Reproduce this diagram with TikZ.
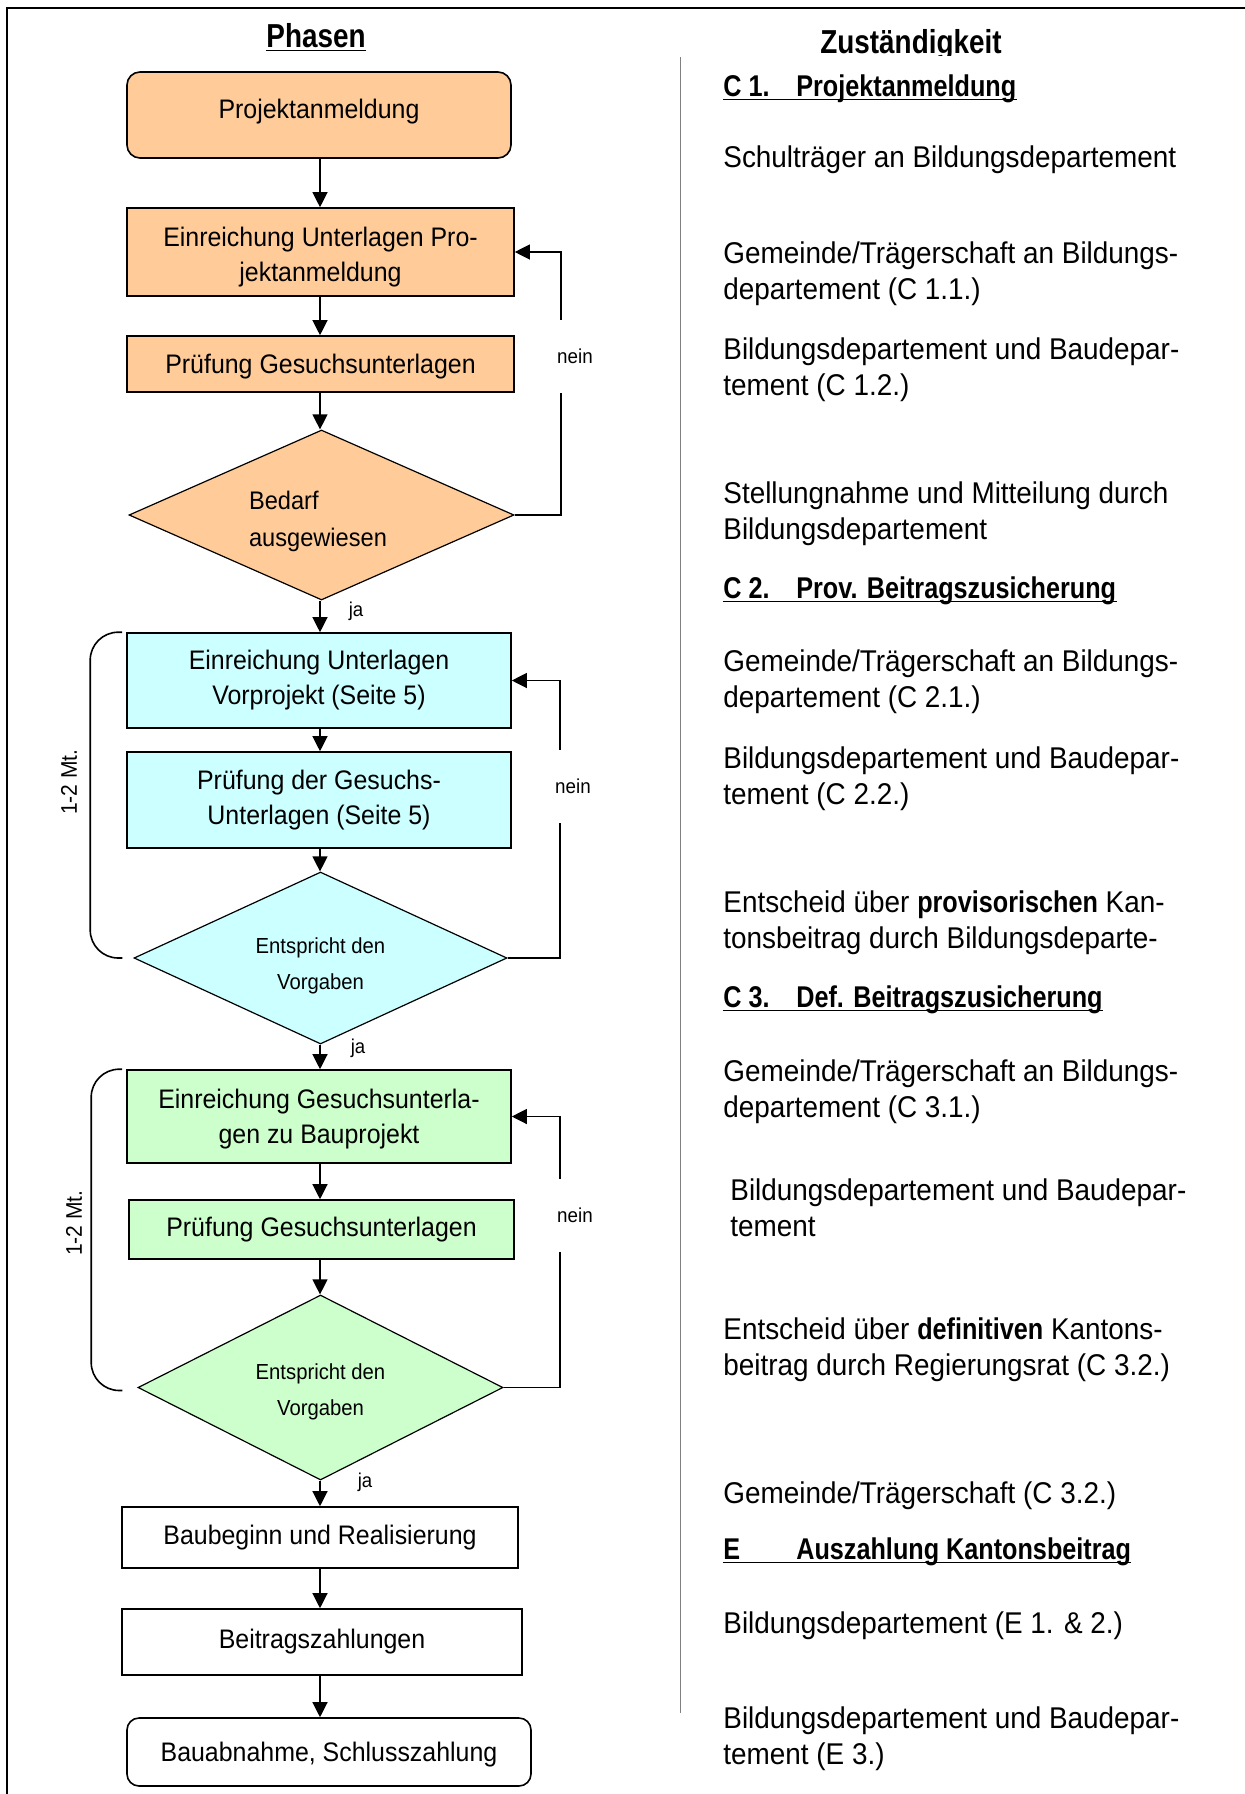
\documentclass[tikz,border=0pt]{standalone}
\usepackage{fontspec}
\setmainfont{Liberation Sans}[FakeStretch=0.93, BoldFeatures={FakeStretch=0.84}]
\usetikzlibrary{shapes.geometric,arrows.meta}
\definecolor{orangef}{RGB}{255,204,153}
\definecolor{cyanf}{RGB}{204,255,255}
\definecolor{greenf}{RGB}{204,255,204}
\definecolor{sepgray}{RGB}{128,128,128}
\begin{document}
\begin{tikzpicture}[x=0.5pt,y=-0.5pt,
  box/.style={draw=black, line width=0.8pt, inner sep=0pt, align=center, font=\fontsize{13.4}{17.5}\selectfont},
  btext/.style={inner sep=0pt, align=center, font=\fontsize{13.4}{17.5}\selectfont},
  dia/.style={diamond, draw=black, line width=0.6pt, inner sep=0pt, align=center},
  dtext/.style={inner sep=0pt, align=center, font=\fontsize{10.9}{18}\selectfont},
  arr/.style={line width=0.6pt, -{Triangle[length=7.5pt,width=7.5pt]}},
  lbl/.style={inner sep=1pt, font=\fontsize{10}{12}\selectfont},
  neinlbl/.style={fill=white, inner xsep=3pt, inner ysep=0pt, minimum height=36.5pt, font=\fontsize{10.1}{12}\selectfont},
  para/.style={anchor=west, inner sep=0pt, yshift=-1.15pt, align=left, font=\fontsize{15}{18}\selectfont},
  head/.style={anchor=base west, inner sep=0pt, font=\fontsize{15}{17}\selectfont\bfseries},
  uline/.style={line width=0.7pt},
  brace/.style={line width=0.8pt, rounded corners=14pt},
]
\useasboundingbox (0,0) rectangle (1245,1794);
% frame
\draw[line width=1pt] (7,1794) -- (7,8) -- (1245,8);
% separator
\draw[sepgray, line width=0.5pt] (680,57) -- (680,1713);

% headers
\node[anchor=base, inner sep=0pt, font=\fontsize{16.6}{18}\selectfont\bfseries] (ph) at (316,47) {Phasen};
\draw[uline] ([yshift=-1.6pt]ph.base west) -- ([yshift=-1.6pt]ph.base east);
\begin{scope}
\clip (690,0) rectangle (1245,55);
\node[anchor=base, inner sep=0pt, font=\fontsize{16.6}{18}\selectfont\bfseries] (zu) at (911,53) {Zuständigkeit};
\end{scope}

% flow boxes
\node[box, fill=orangef, rounded corners=6.5pt, minimum width=192pt, minimum height=43pt] (b1) at (319,115) {};
\node[btext] (b1t) at (319,111.5) {Projektanmeldung};
\node[box, fill=orangef, minimum width=193.5pt, minimum height=44pt] (b2) at (320.5,252) {};
\node[btext] (b2t) at (320.5,257.5) {Einreichung Unterlagen Pro-\\jektanmeldung};
\node[box, fill=orangef, minimum width=193.5pt, minimum height=28pt] (b3) at (320.5,364) {};
\node[btext] (b3t) at (320.5,366.3) {Prüfung Gesuchsunterlagen};
\node[dia, fill=orangef, minimum width=192.5pt, minimum height=85pt] (d1) at (321.5,515) {};
\node[inner sep=0pt, align=left, font=\fontsize{12.7}{18.5}\selectfont] (d1t) at (318,521.5) {Bedarf\\ausgewiesen};

\node[box, fill=cyanf, minimum width=192pt, minimum height=47.5pt] (b4) at (319,680.5) {Einreichung Unterlagen\\Vorprojekt (Seite 5)};
\node[box, fill=cyanf, minimum width=192pt, minimum height=48pt] (b5) at (319,800) {Prüfung der Gesuchs-\\Unterlagen (Seite 5)};
\node[dia, fill=cyanf, minimum width=186.5pt, minimum height=86pt] (d2) at (320.5,958) {};
\node[dtext] (d2t) at (320.5,966) {Entspricht den\\Vorgaben};

\node[box, fill=greenf, minimum width=192pt, minimum height=46.5pt] (b6) at (319,1116.5) {};
\node[btext] (b6t) at (319,1118.8) {Einreichung Gesuchsunterla-\\gen zu Bauprojekt};
\node[box, fill=greenf, minimum width=192.5pt, minimum height=29.5pt] (b7) at (321.5,1229.5) {Prüfung Gesuchsunterlagen};
\node[dia, fill=greenf, minimum width=182.5pt, minimum height=92.5pt] (d3) at (320.5,1387.5) {};
\node[dtext] (d3t) at (320.5,1392) {Entspricht den\\Vorgaben};

\node[box, fill=white, minimum width=198pt, minimum height=30.5pt] (b8) at (320,1537.5) {Baubeginn und Realisierung};
\node[box, fill=white, minimum width=200pt, minimum height=33pt] (b9) at (322,1642) {Beitragszahlungen};
\node[box, fill=white, rounded corners=6pt, minimum width=202pt, minimum height=34pt] (b10) at (329,1752) {};
\node[btext] (b10t) at (329,1754.3) {Bauabnahme, Schlusszahlung};

% vertical arrows
\coordinate (ax) at (320,0);
\draw[arr] (b1.south -| ax) -- (b2.north -| ax);
\draw[arr] (b2.south -| ax) -- (b3.north -| ax);
\draw[arr] (b3.south -| ax) -- (d1.north -| ax);
\draw[arr] (d1.south -| ax) -- (b4.north -| ax);
\draw[arr] (b4.south -| ax) -- (b5.north -| ax);
\draw[arr] (b5.south -| ax) -- (d2.north -| ax);
\draw[arr] (d2.south -| ax) -- (b6.north -| ax);
\draw[arr] (b6.south -| ax) -- (b7.north -| ax);
\draw[arr] (b7.south -| ax) -- (d3.north -| ax);
\draw[arr] (d3.south -| ax) -- (b8.north -| ax);
\draw[arr] (b8.south -| ax) -- (b9.north -| ax);
\draw[arr] (b9.south -| ax) -- (b10.north -| ax);

% loops
\coordinate (nx1) at (561,0);
\coordinate (nx2) at (560,0);
\draw[arr] (d1.east) -- (d1.east -| nx1) |- (b2.east);
\draw[arr] (d2.east) -- (d2.east -| nx2) |- (b4.east);
\draw[arr] (d3.east) -- (d3.east -| nx2) |- (b6.east);
\node[neinlbl] (n1) at (575,356) {nein};
\node[neinlbl] (n2) at (573,786) {nein};
\node[neinlbl] (n3) at (575,1215) {nein};

% ja labels
\node[lbl] (j1) at (356,611) {ja};
\node[lbl] (j2) at (358,1048) {ja};
\node[lbl] (j3) at (365,1482) {ja};

% brackets
\draw[brace] ([xshift=-2pt]b4.north west) -- ++(-32,0) |- ([xshift=-5.5pt]d2.west);
\draw[brace] ([xshift=-2pt]b6.north west) -- ++(-31,0) |- ([xshift=-7.5pt,yshift=-1.5pt]d3.west);
\node[lbl, rotate=90, font=\fontsize{11.3}{13}\selectfont] (m1) at (69,782) {1-2 Mt.};
\node[lbl, rotate=90, font=\fontsize{11.3}{13}\selectfont] (m2) at (74,1223) {1-2 Mt.};

% right column
\node[head] (h1) at (723,96) {\makebox[36.5pt][l]{C 1.}Projektanmeldung};
\draw[uline] ([yshift=-1.6pt]h1.base west) -- ([yshift=-1.6pt]h1.base east);
\node[para] (p1) at (723,157) {Schulträger an Bildungsdepartement};
\node[para] (p2) at (723,271.5) {Gemeinde/Trägerschaft an Bildungs-\\departement (C 1.1.)};
\node[para] (p3) at (723,367.5) {Bildungsdepartement und Baudepar-\\tement (C 1.2.)};
\node[para] (p4) at (723,511.5) {Stellungnahme und Mitteilung durch\\Bildungsdepartement};

\node[head] (h2) at (723,598) {\makebox[36.5pt][l]{C 2.}Prov. Beitragszusicherung};
\draw[uline] ([yshift=-1.6pt]h2.base west) -- ([yshift=-1.6pt]h2.base east);
\node[para] (p5) at (723,679) {Gemeinde/Trägerschaft an Bildungs-\\departement (C 2.1.)};
\node[para] (p6) at (723,776.5) {Bildungsdepartement und Baudepar-\\tement (C 2.2.)};
\node[para] (p7) at (723,920.5) {Entscheid über \textbf{provisorischen} Kan-\\tonsbeitrag durch Bildungsdeparte-};

\node[head] (h3) at (723,1007) {\makebox[36.5pt][l]{C 3.}Def. Beitragszusicherung};
\draw[uline] ([yshift=-1.6pt]h3.base west) -- ([yshift=-1.6pt]h3.base east);
\node[para] (p8) at (723,1089.5) {Gemeinde/Trägerschaft an Bildungs-\\departement (C 3.1.)};
\node[para] (p9) at (730,1205.7) {Bildungsdepartement und Baudepar-\\tement};
\node[para] (p10) at (723,1347) {Entscheid über \textbf{definitiven} Kantons-\\beitrag durch Regierungsrat (C 3.2.)};
\node[para] (p11) at (723,1493) {Gemeinde/Trägerschaft (C 3.2.)};

\node[head] (h4) at (723,1559) {\makebox[36.5pt][l]{E}Auszahlung Kantonsbeitrag};
\draw[uline] ([yshift=-1.6pt]h4.base west) -- ([yshift=-1.6pt]h4.base east);
\node[para] (p12) at (723,1623) {Bildungsdepartement (E 1. \& 2.)};
\node[para] (p13) at (723,1736.5) {Bildungsdepartement und Baudepar-\\tement (E 3.)};
\end{tikzpicture}
\end{document}
